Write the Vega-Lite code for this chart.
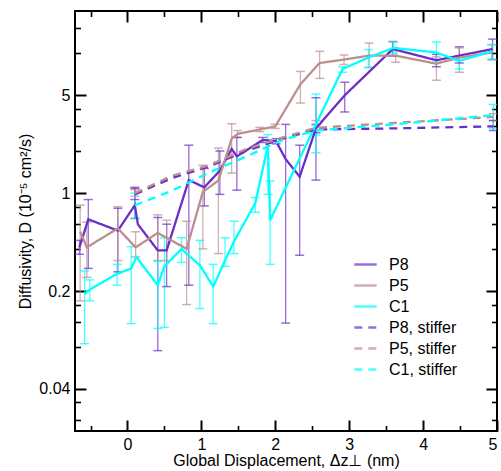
{
  "$schema": "https://vega.github.io/schema/vega-lite/v6.json",
  "width": 422,
  "height": 420,
  "autosize": {"type": "none"},
  "padding": {"left": 75, "top": 11, "right": 4, "bottom": 40},
  "config": {
    "view": {"stroke": "black", "strokeWidth": 2},
    "font": "Liberation Sans",
    "axis": {
      "grid": false, "domain": false,
      "labelFont": "Liberation Sans", "titleFont": "Liberation Sans",
      "labelColor": "black", "titleColor": "black", "tickColor": "black",
      "labelFontSize": 16, "titleFontSize": 16, "titleFontWeight": "normal"
    },
    "legend": {
      "title": null, "orient": "none", "legendX": 278, "legendY": 241,
      "symbolType": "stroke", "symbolSize": 500, "symbolStrokeWidth": 2.5,
      "labelFontSize": 16, "labelFont": "Liberation Sans", "labelColor": "black",
      "labelOffset": 11, "rowPadding": -7.3, "padding": 0
    }
  },
  "datasets": {
    "pts": [
      {"series": "P8", "x": -0.65, "y": 0.41, "lo": 0.366, "hi": 0.46},
      {"series": "P8", "x": -0.53, "y": 0.65, "lo": 0.29, "hi": 0.90},
      {"series": "P8", "x": -0.13, "y": 0.54, "lo": 0.274, "hi": 0.78},
      {"series": "P8", "x": 0.10, "y": 0.82, "lo": 0.66, "hi": 1.10},
      {"series": "P8", "x": 0.14, "y": 0.60, "lo": null, "hi": null},
      {"series": "P8", "x": 0.41, "y": 0.39, "lo": 0.075, "hi": 0.67},
      {"series": "P8", "x": 0.53, "y": 0.39, "lo": 0.215, "hi": 0.60},
      {"series": "P8", "x": 0.83, "y": 1.24, "lo": 0.22, "hi": 2.2},
      {"series": "P8", "x": 1.04, "y": 1.10, "lo": 0.81, "hi": 1.5},
      {"series": "P8", "x": 1.25, "y": 1.45, "lo": 0.98, "hi": 2.0},
      {"series": "P8", "x": 1.41, "y": 2.07, "lo": null, "hi": null},
      {"series": "P8", "x": 1.48, "y": 1.83, "lo": 1.05, "hi": 2.5},
      {"series": "P8", "x": 1.83, "y": 2.40, "lo": 2.3, "hi": 2.5},
      {"series": "P8", "x": 2.01, "y": 2.35, "lo": 2.25, "hi": 2.45},
      {"series": "P8", "x": 2.14, "y": 1.75, "lo": 0.118, "hi": 3.1},
      {"series": "P8", "x": 2.33, "y": 1.31, "lo": 0.36, "hi": 2.2},
      {"series": "P8", "x": 2.55, "y": 2.9, "lo": 1.24, "hi": 4.8},
      {"series": "P8", "x": 2.94, "y": 5.0, "lo": 3.8, "hi": 6.2},
      {"series": "P8", "x": 3.59, "y": 10.7, "lo": 9.5, "hi": 12.1},
      {"series": "P8", "x": 4.18, "y": 8.9, "lo": 8.0, "hi": 9.8},
      {"series": "P8", "x": 4.49, "y": 9.6, "lo": 8.5, "hi": 11.1},
      {"series": "P8", "x": 4.94, "y": 10.7, "lo": 9.0, "hi": 12.6},

      {"series": "P5", "x": -0.64, "y": 0.53, "lo": 0.17, "hi": 0.82},
      {"series": "P5", "x": -0.55, "y": 0.41, "lo": 0.25, "hi": 0.62},
      {"series": "P5", "x": -0.13, "y": 0.56, "lo": 0.33, "hi": 0.80},
      {"series": "P5", "x": 0.11, "y": 0.41, "lo": 0.35, "hi": 0.53},
      {"series": "P5", "x": 0.41, "y": 0.52, "lo": 0.33, "hi": 0.70},
      {"series": "P5", "x": 0.53, "y": 0.48, "lo": 0.33, "hi": 0.64},
      {"series": "P5", "x": 0.80, "y": 0.40, "lo": 0.16, "hi": 0.63},
      {"series": "P5", "x": 1.02, "y": 1.02, "lo": 0.40, "hi": 1.58},
      {"series": "P5", "x": 1.23, "y": 1.23, "lo": 0.37, "hi": 2.1},
      {"series": "P5", "x": 1.41, "y": 2.45, "lo": 1.39, "hi": 3.13},
      {"series": "P5", "x": 1.49, "y": 2.65, "lo": 2.5, "hi": 2.8},
      {"series": "P5", "x": 1.79, "y": 2.85, "lo": 2.75, "hi": 2.95},
      {"series": "P5", "x": 2.00, "y": 3.0, "lo": 2.9, "hi": 3.1},
      {"series": "P5", "x": 2.34, "y": 6.0, "lo": 4.4, "hi": 7.4},
      {"series": "P5", "x": 2.60, "y": 8.5, "lo": 6.6, "hi": 10.3},
      {"series": "P5", "x": 2.93, "y": 9.0, "lo": 8.3, "hi": 9.7},
      {"series": "P5", "x": 3.27, "y": 9.6, "lo": 7.9, "hi": 11.8},
      {"series": "P5", "x": 3.63, "y": 9.6, "lo": 8.6, "hi": 10.5},
      {"series": "P5", "x": 4.18, "y": 8.4, "lo": 6.4, "hi": 9.4},
      {"series": "P5", "x": 4.49, "y": 9.3, "lo": 7.3, "hi": 10.9},
      {"series": "P5", "x": 4.93, "y": 10.1, "lo": 9.0, "hi": 11.5},

      {"series": "C1", "x": -0.58, "y": 0.19, "lo": 0.084, "hi": 0.278},
      {"series": "C1", "x": -0.51, "y": 0.205, "lo": 0.17, "hi": 0.24},
      {"series": "C1", "x": -0.14, "y": 0.265, "lo": 0.22, "hi": 0.31},
      {"series": "C1", "x": 0.05, "y": 0.29, "lo": 0.117, "hi": 0.415},
      {"series": "C1", "x": 0.12, "y": 0.35, "lo": null, "hi": null},
      {"series": "C1", "x": 0.41, "y": 0.22, "lo": 0.108, "hi": 0.326},
      {"series": "C1", "x": 0.50, "y": 0.30, "lo": 0.11, "hi": 0.48},
      {"series": "C1", "x": 0.73, "y": 0.40, "lo": 0.32, "hi": 0.48},
      {"series": "C1", "x": 0.98, "y": 0.305, "lo": 0.15, "hi": 0.46},
      {"series": "C1", "x": 1.16, "y": 0.215, "lo": 0.117, "hi": 0.31},
      {"series": "C1", "x": 1.32, "y": 0.33, "lo": 0.30, "hi": 0.48},
      {"series": "C1", "x": 1.44, "y": 0.45, "lo": 0.37, "hi": 0.63},
      {"series": "C1", "x": 1.73, "y": 0.85, "lo": 0.73, "hi": 0.93},
      {"series": "C1", "x": 1.90, "y": 2.19, "lo": 0.98, "hi": 2.62},
      {"series": "C1", "x": 1.93, "y": 0.64, "lo": 0.31, "hi": 1.22},
      {"series": "C1", "x": 2.55, "y": 3.1, "lo": 1.94, "hi": 5.1},
      {"series": "C1", "x": 2.91, "y": 7.7, "lo": 7.3, "hi": 8.0},
      {"series": "C1", "x": 3.26, "y": 9.3, "lo": 7.9, "hi": 10.6},
      {"series": "C1", "x": 3.60, "y": 10.9, "lo": 10.0, "hi": 12.0},
      {"series": "C1", "x": 4.18, "y": 10.1, "lo": 8.6, "hi": 12.0},
      {"series": "C1", "x": 4.49, "y": 8.8, "lo": 7.7, "hi": 9.6},
      {"series": "C1", "x": 4.93, "y": 10.3, "lo": 9.0, "hi": 11.5},

      {"series": "P8, stiffer", "x": 0.10, "y": 0.98, "lo": 0.90, "hi": 1.08},
      {"series": "P8, stiffer", "x": 0.60, "y": 1.28, "lo": null, "hi": null},
      {"series": "P8, stiffer", "x": 1.10, "y": 1.55, "lo": null, "hi": null},
      {"series": "P8, stiffer", "x": 1.60, "y": 2.0, "lo": null, "hi": null},
      {"series": "P8, stiffer", "x": 2.10, "y": 2.45, "lo": null, "hi": null},
      {"series": "P8, stiffer", "x": 2.55, "y": 2.85, "lo": 2.7, "hi": 3.1},
      {"series": "P8, stiffer", "x": 3.60, "y": 2.9, "lo": null, "hi": null},
      {"series": "P8, stiffer", "x": 4.95, "y": 3.0, "lo": 2.8, "hi": 3.3},

      {"series": "P5, stiffer", "x": 0.10, "y": 1.0, "lo": 0.95, "hi": 1.06},
      {"series": "P5, stiffer", "x": 0.60, "y": 1.33, "lo": null, "hi": null},
      {"series": "P5, stiffer", "x": 1.10, "y": 1.58, "lo": null, "hi": null},
      {"series": "P5, stiffer", "x": 1.60, "y": 2.06, "lo": null, "hi": null},
      {"series": "P5, stiffer", "x": 2.10, "y": 2.5, "lo": null, "hi": null},
      {"series": "P5, stiffer", "x": 2.55, "y": 2.93, "lo": 2.8, "hi": 3.3},
      {"series": "P5, stiffer", "x": 3.60, "y": 3.17, "lo": null, "hi": null},
      {"series": "P5, stiffer", "x": 4.95, "y": 3.5, "lo": 3.3, "hi": 3.7},

      {"series": "C1, stiffer", "x": 0.10, "y": 0.82, "lo": 0.66, "hi": 1.0},
      {"series": "C1, stiffer", "x": 0.60, "y": 1.04, "lo": null, "hi": null},
      {"series": "C1, stiffer", "x": 1.10, "y": 1.4, "lo": null, "hi": null},
      {"series": "C1, stiffer", "x": 1.60, "y": 1.82, "lo": null, "hi": null},
      {"series": "C1, stiffer", "x": 2.10, "y": 2.4, "lo": null, "hi": null},
      {"series": "C1, stiffer", "x": 2.55, "y": 2.8, "lo": 2.6, "hi": 3.05},
      {"series": "C1, stiffer", "x": 3.60, "y": 3.1, "lo": null, "hi": null},
      {"series": "C1, stiffer", "x": 4.95, "y": 3.6, "lo": 2.9, "hi": 4.3}
    ],
    "dummy": [{"x": 0, "y": 1}]
  },
  "resolve": {"axis": {"x": "independent", "y": "independent"}},
  "layer": [
    {
      "data": {"name": "pts"},
      "transform": [{"filter": "isValid(datum.lo)"}],
      "mark": {"type": "rule", "clip": true, "strokeWidth": 1.3, "opacity": 0.7},
      "encoding": {
        "x": {"field": "x", "type": "quantitative", "scale": {"domain": [-0.71, 5], "nice": false, "zero": false}, "axis": null},
        "y": {"field": "lo", "type": "quantitative", "scale": {"type": "log", "domain": [0.02, 20], "nice": false}, "axis": null},
        "y2": {"field": "hi"},
        "color": {"field": "series", "type": "nominal", "title": null, "scale": {"domain": ["P8", "P5", "C1", "P8, stiffer", "P5, stiffer", "C1, stiffer"], "range": ["#6b2fc9", "#bc8f8f", "#00ffff", "#6b2fc9", "#bc8f8f", "#00ffff"]}}
      }
    },
    {
      "data": {"name": "pts"},
      "transform": [{"filter": "isValid(datum.lo)"}],
      "mark": {"type": "tick", "orient": "horizontal", "size": 9, "thickness": 1.5, "clip": true, "opacity": 0.7},
      "encoding": {
        "x": {"field": "x", "type": "quantitative", "axis": null},
        "y": {"field": "lo", "type": "quantitative", "axis": null},
        "color": {"field": "series", "type": "nominal", "title": null}
      }
    },
    {
      "data": {"name": "pts"},
      "transform": [{"filter": "isValid(datum.hi)"}],
      "mark": {"type": "tick", "orient": "horizontal", "size": 9, "thickness": 1.5, "clip": true, "opacity": 0.7},
      "encoding": {
        "x": {"field": "x", "type": "quantitative", "axis": null},
        "y": {"field": "hi", "type": "quantitative", "axis": null},
        "color": {"field": "series", "type": "nominal", "title": null}
      }
    },
    {
      "data": {"name": "pts"},
      "mark": {"type": "line", "clip": true, "strokeWidth": 2.3},
      "encoding": {
        "x": {"field": "x", "type": "quantitative", "axis": null},
        "y": {"field": "y", "type": "quantitative", "axis": null},
        "color": {"field": "series", "type": "nominal", "title": null},
        "strokeDash": {"field": "series", "type": "nominal", "title": null, "scale": {"domain": ["P8", "P5", "C1", "P8, stiffer", "P5, stiffer", "C1, stiffer"], "range": [[1, 0], [1, 0], [1, 0], [8, 6], [8, 6], [8, 6]]}}
      }
    },
    {
      "data": {"name": "dummy"},
      "mark": {"type": "point", "opacity": 0},
      "encoding": {
        "x": {"field": "x", "type": "quantitative", "axis": {"orient": "bottom", "values": [0, 1, 2, 3, 4, 5], "ticks": false, "tickSize": 0, "labelPadding": 5, "format": "~g", "title": "Global Displacement, Δz⊥ (nm)", "titlePadding": 0}},
        "y": {"field": "y", "type": "quantitative", "axis": {"orient": "left", "values": [0.04, 0.2, 1, 5], "ticks": false, "tickSize": 0, "labelPadding": 5, "format": "~g", "title": "Diffusivity, D (10⁻⁵ cm²/s)", "titlePadding": 5}}
      }
    },
    {
      "data": {"name": "dummy"},
      "mark": {"type": "point", "opacity": 0},
      "encoding": {
        "x": {"field": "x", "type": "quantitative", "axis": {"orient": "bottom", "values": [0, 1, 2, 3, 4, 5], "labels": false, "title": null, "tickSize": 11, "offset": -11, "tickWidth": 2}},
        "y": {"field": "y", "type": "quantitative", "axis": {"orient": "left", "values": [0.04, 0.2, 1, 5], "labels": false, "title": null, "tickSize": 11, "offset": -11, "tickWidth": 2}}
      }
    },
    {
      "data": {"name": "dummy"},
      "mark": {"type": "point", "opacity": 0},
      "encoding": {
        "x": {"field": "x", "type": "quantitative", "axis": {"orient": "top", "values": [0, 1, 2, 3, 4, 5], "labels": false, "title": null, "tickSize": 11, "offset": -11, "tickWidth": 2}},
        "y": {"field": "y", "type": "quantitative", "axis": {"orient": "right", "values": [0.04, 0.2, 1, 5], "labels": false, "title": null, "tickSize": 11, "offset": -11, "tickWidth": 2}}
      }
    },
    {
      "data": {"name": "dummy"},
      "mark": {"type": "point", "opacity": 0},
      "encoding": {
        "x": {"field": "x", "type": "quantitative", "axis": {"orient": "bottom", "values": [-0.5, 0.5, 1.5, 2.5, 3.5, 4.5], "labels": false, "title": null, "tickSize": 5.5, "offset": -5.5, "tickWidth": 1.6}},
        "y": {"field": "y", "type": "quantitative", "axis": {"orient": "left", "values": [0.024, 0.032, 0.08, 0.12, 0.16, 0.4, 0.6, 0.8, 2, 3, 4, 10, 15], "labels": false, "title": null, "tickSize": 5.5, "offset": -5.5, "tickWidth": 1.6}}
      }
    },
    {
      "data": {"name": "dummy"},
      "mark": {"type": "point", "opacity": 0},
      "encoding": {
        "x": {"field": "x", "type": "quantitative", "axis": {"orient": "top", "values": [-0.5, 0.5, 1.5, 2.5, 3.5, 4.5], "labels": false, "title": null, "tickSize": 5.5, "offset": -5.5, "tickWidth": 1.6}},
        "y": {"field": "y", "type": "quantitative", "axis": {"orient": "right", "values": [0.024, 0.032, 0.08, 0.12, 0.16, 0.4, 0.6, 0.8, 2, 3, 4, 10, 15], "labels": false, "title": null, "tickSize": 5.5, "offset": -5.5, "tickWidth": 1.6}}
      }
    }
  ]
}
